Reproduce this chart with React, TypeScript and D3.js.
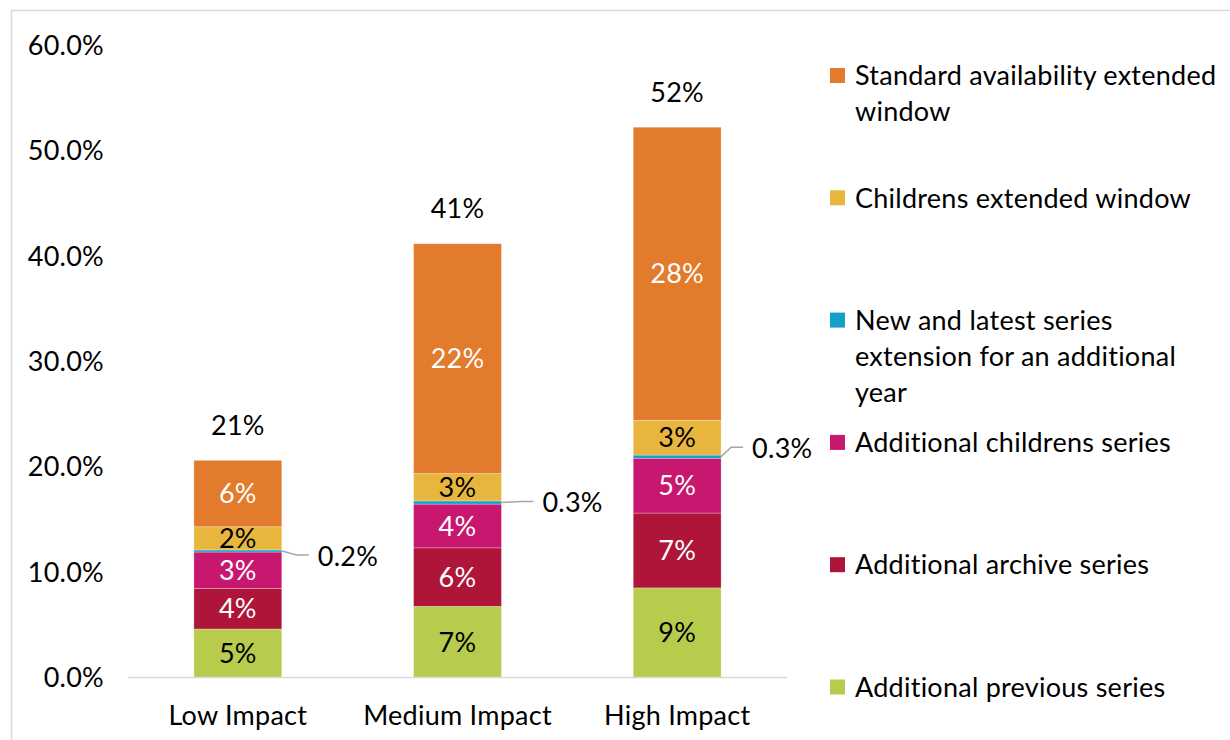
import React from "react";
import * as d3 from "d3";

const categories = ["Low Impact", "Medium Impact", "High Impact"];

// values in percent, bottom to top of each stack
const additionalPrevious = [4.6, 6.75, 8.5];
const additionalArchive = [3.85, 5.55, 7.1];
const additionalChildrens = [3.45, 4.15, 5.2];
const newAndLatest = [0.2, 0.3, 0.3];
const childrensExtended = [2.2, 2.6, 3.3];
const standardExtended = [6.3, 21.8, 27.8];

const yTicks = [0, 10, 20, 30, 40, 50, 60];

const seriesKeys = [
  "additionalPrevious",
  "additionalArchive",
  "additionalChildrens",
  "newAndLatest",
  "childrensExtended",
  "standardExtended",
];
const seriesValues: Record<string, number[]> = {
  additionalPrevious,
  additionalArchive,
  additionalChildrens,
  newAndLatest,
  childrensExtended,
  standardExtended,
};
const seriesColors: Record<string, string> = {
  additionalPrevious: "#B7CB4D",
  additionalArchive: "#AE1539",
  additionalChildrens: "#C8176F",
  newAndLatest: "#13A0CB",
  childrensExtended: "#E9B63D",
  standardExtended: "#E27B2C",
};
const seriesLabelColors: Record<string, string> = {
  additionalPrevious: "#000000",
  additionalArchive: "#ffffff",
  additionalChildrens: "#ffffff",
  newAndLatest: "#000000",
  childrensExtended: "#000000",
  standardExtended: "#ffffff",
};
// legend, top to bottom
const legendKeys = [
  "standardExtended",
  "childrensExtended",
  "newAndLatest",
  "additionalChildrens",
  "additionalArchive",
  "additionalPrevious",
];
const legendLines: Record<string, string[]> = {
  standardExtended: ["Standard availability extended", "window"],
  childrensExtended: ["Childrens extended window"],
  newAndLatest: ["New and latest series", "extension for an additional", "year"],
  additionalChildrens: ["Additional childrens series"],
  additionalArchive: ["Additional archive series"],
  additionalPrevious: ["Additional previous series"],
};

// layout config for the outside labels of the thin series
const calloutOffsets = [
  { dx: 36, dy: 5 },
  { dx: 41, dy: 0 },
  { dx: 31, dy: -8.5 },
];

const FONT = "Lato, 'Open Sans', sans-serif";
const FS = 27;
const LS = 0.25;

export default function App() {
  const W = 1230;
  const H = 740;
  const plotLeft = 128;
  const plotRight = 787;
  const y = d3.scaleLinear().domain([0, 60]).range([677.5, 45]);
  const x = d3
    .scaleBand<string>()
    .domain(categories)
    .range([plotLeft, plotRight])
    .paddingInner(0)
    .paddingOuter(0);
  const barW = x.bandwidth() * 0.4;

  const rows = categories.map((c, i) => {
    const r: any = { category: c };
    seriesKeys.forEach((k) => (r[k] = seriesValues[k][i]));
    return r;
  });
  const stacked = d3.stack<any>().keys(seriesKeys)(rows);
  const totals = categories.map((_, i) =>
    d3.sum(seriesKeys, (k) => seriesValues[k][i])
  );

  const tickFmt = (v: number) => d3.format(".1f")(v) + "%";
  const intFmt = (v: number) => Math.round(v) + "%";
  const smallFmt = (v: number) => d3.format(".1f")(v) + "%";

  const legendX = 830;
  const legendTop = 75.5;
  const legendStep = 122.3;
  const lineH = 36;

  const txt = { fontFamily: FONT, fontSize: FS, letterSpacing: LS } as const;

  return (
    <div style={{ position: "absolute", left: 0, top: 0 }}>
      <svg width={W} height={H} style={{ display: "block", background: "#fff" }}>
        <rect x={11.5} y={10.5} width={1300} height={800} fill="none" stroke="#d9d9d9" strokeWidth={1.5} />

        {/* y axis tick labels */}
        {yTicks.map((t) => (
          <text key={t} x={104} y={y(t)} dy="0.36em" textAnchor="end" {...txt} fill="#000">
            {tickFmt(t)}
          </text>
        ))}

        {/* bars */}
        {stacked.map((layer) => (
          <g key={layer.key} fill={seriesColors[layer.key]}>
            {layer.map((d, i) => {
              const cx = (x(categories[i]) as number) + x.bandwidth() / 2;
              return (
                <rect
                  key={i}
                  x={cx - barW / 2}
                  y={y(d[1])}
                  width={barW}
                  height={y(d[0]) - y(d[1])}
                  stroke="#ffffff"
                  strokeOpacity={0.35}
                  strokeWidth={0.8}
                />
              );
            })}
          </g>
        ))}

        {/* x axis line */}
        <line x1={plotLeft} x2={plotRight} y1={y(0)} y2={y(0)} stroke="#d9d9d9" strokeWidth={1.5} />

        {/* segment labels */}
        {stacked.map((layer) =>
          layer.map((d, i) => {
            const cx = (x(categories[i]) as number) + x.bandwidth() / 2;
            const v = d[1] - d[0];
            const midY = (y(d[0]) + y(d[1])) / 2;
            if (layer.key === "newAndLatest") {
              const off = calloutOffsets[i];
              const right = cx + barW / 2;
              const lx = right + off.dx;
              const ly = midY + off.dy;
              return (
                <g key={layer.key + i}>
                  <path
                    d={`M${right},${midY} L${lx - 21},${ly - 1} L${lx - 9},${ly - 1}`}
                    fill="none"
                    stroke="#a6a6a6"
                    strokeWidth={1.5}
                  />
                  <text x={lx} y={ly} dy="0.36em" {...txt} fill="#000">
                    {smallFmt(v)}
                  </text>
                </g>
              );
            }
            return (
              <text
                key={layer.key + i}
                x={cx}
                y={midY}
                dy="0.36em"
                textAnchor="middle"
                {...txt}
                fill={seriesLabelColors[layer.key]}
              >
                {intFmt(v)}
              </text>
            );
          })
        )}

        {/* totals */}
        {categories.map((c, i) => (
          <text
            key={c}
            x={(x(c) as number) + x.bandwidth() / 2}
            y={y(totals[i]) - 35}
            dy="0.36em"
            textAnchor="middle"
            {...txt}
            fill="#000"
          >
            {intFmt(totals[i])}
          </text>
        ))}

        {/* category labels */}
        {categories.map((c) => (
          <text
            key={c}
            x={(x(c) as number) + x.bandwidth() / 2}
            y={715}
            dy="0.36em"
            textAnchor="middle"
            {...txt}
            fill="#000"
          >
            {c}
          </text>
        ))}

        {/* legend */}
        {legendKeys.map((k, i) => {
          const cy = legendTop + i * legendStep;
          return (
            <g key={k}>
              <rect x={legendX} y={cy - 7.5} width={15} height={15} fill={seriesColors[k]} />
              {legendLines[k].map((ln, j) => (
                <text key={j} x={855} y={cy + j * lineH} dy="0.36em" {...txt} fill="#000">
                  {ln}
                </text>
              ))}
            </g>
          );
        })}
      </svg>
    </div>
  );
}
